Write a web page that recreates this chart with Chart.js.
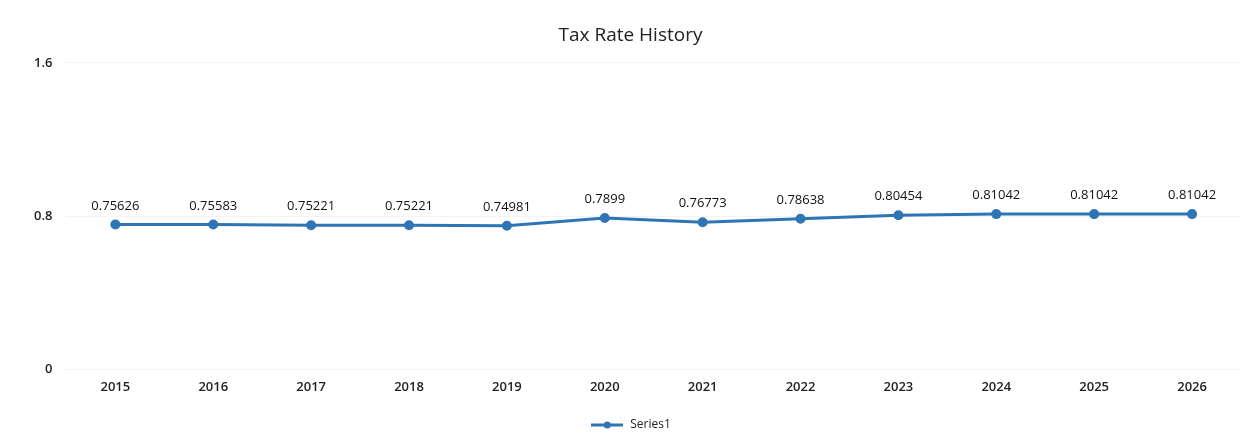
<!DOCTYPE html>
<html>
<head>
<meta charset="utf-8">
<script src="https://cdn.jsdelivr.net/npm/chart.js@4"></script>
<style>
  html, body { margin: 0; padding: 0; background: #fff; }
  #wrap { width: 1257px; height: 443px; position: relative; }
</style>
</head>
<body>
<div id="wrap"><canvas id="myChart"></canvas></div>
<script>
// data
const years = ["2015", "2016", "2017", "2018", "2019", "2020", "2021", "2022", "2023", "2024", "2025", "2026"];
const taxRate = [0.75626, 0.75583, 0.75221, 0.75221, 0.74981, 0.7899, 0.76773, 0.78638, 0.80454, 0.81042, 0.81042, 0.81042];
const yTicks = [0, 0.8, 1.6];

const blue = '#2E75B6';

// legend marker: short line with a dot in the middle
const marker = document.createElement('canvas');
marker.width = 32; marker.height = 10;
(function () {
    const c = marker.getContext('2d');
    c.strokeStyle = blue; c.lineWidth = 3;
    c.beginPath(); c.moveTo(0, 5); c.lineTo(32, 5); c.stroke();
    c.fillStyle = blue;
    c.beginPath(); c.arc(16, 5, 3.5, 0, Math.PI * 2); c.fill();
})();

// write the value above each point
const valueLabels = {
    id: 'valueLabels',
    afterDatasetsDraw(chart) {
        const ctx = chart.ctx;
        const meta = chart.getDatasetMeta(0);
        ctx.save();
        ctx.font = '500 13px "Open Sans"';
        ctx.fillStyle = '#111';
        ctx.textAlign = 'center';
        ctx.textBaseline = 'bottom';
        meta.data.forEach((pt, i) => {
            ctx.fillText(String(taxRate[i]), pt.x, pt.y - 12);
        });
        ctx.restore();
    }
};

var context = document.getElementById("myChart").getContext('2d');
var myLineChart = new Chart(context, {
    type: 'line',
    data: {
        labels: years,
        datasets: [{
            label: 'Series1',
            data: taxRate,
            borderColor: blue,
            backgroundColor: blue,
            borderWidth: 3,
            pointRadius: 3.5,
            pointHoverRadius: 3.5,
            tension: 0
        }]
    },
    options: {
        responsive: true,
        maintainAspectRatio: false,
        animation: false,
        layout: { padding: { left: 20, right: 16, top: 8, bottom: 2 } },
        plugins: {
            title: {
                display: true,
                text: 'Tax Rate History',
                color: '#222',
                font: { family: '"Open Sans"', size: 19, weight: 'normal' },
                padding: { top: 16, bottom: 16 }
            },
            legend: {
                position: 'bottom',
                labels: {
                    usePointStyle: true,
                    pointStyleWidth: 34,
                    color: '#222',
                    font: { family: '"Open Sans"', size: 12 },
                    padding: 14,
                    generateLabels(chart) {
                        const items = Chart.defaults.plugins.legend.labels.generateLabels(chart);
                        items.forEach(it => { it.pointStyle = marker; });
                        return items;
                    }
                }
            },
            tooltip: { enabled: false }
        },
        scales: {
            y: {
                min: 0,
                max: 1.6,
                afterBuildTicks(axis) { axis.ticks = yTicks.map(v => ({ value: v })); },
                ticks: {
                    color: '#222',
                    padding: 14,
                    font: { family: '"Open Sans"', size: 13, weight: '600' },
                    callback: v => String(v)
                },
                grid: { color: '#f3f3f3', drawTicks: false },
                border: { display: false }
            },
            x: {
                offset: true,
                ticks: {
                    color: '#222',
                    padding: 10,
                    font: { family: '"Open Sans"', size: 13, weight: '600' }
                },
                grid: { display: false, drawTicks: false },
                border: { display: false }
            }
        }
    },
    plugins: [valueLabels]
});
</script>
</body>
</html>
